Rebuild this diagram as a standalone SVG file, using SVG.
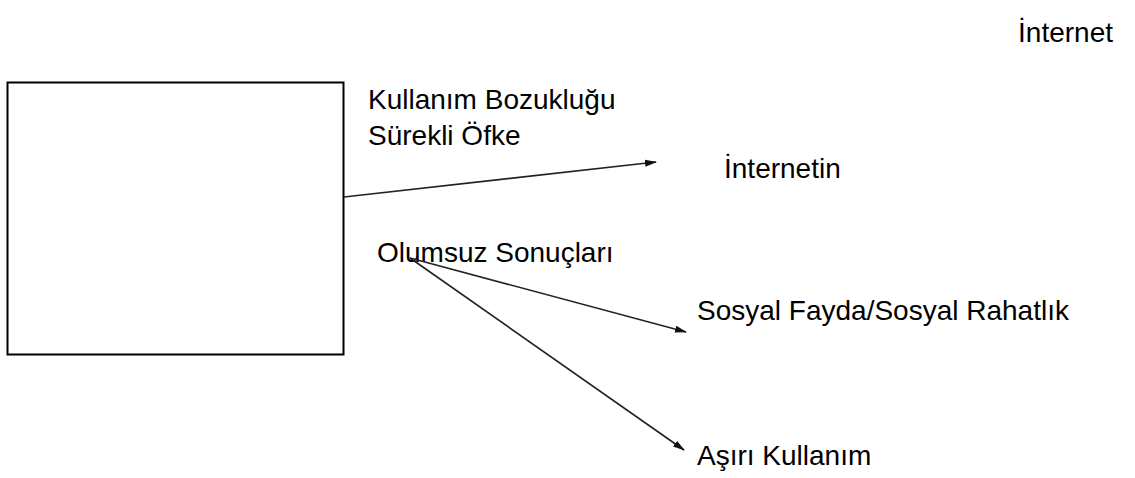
<svg xmlns="http://www.w3.org/2000/svg" width="1135" height="478" viewBox="0 0 1135 478">
<style>
text{font-family:"Liberation Sans",Arial,sans-serif;font-size:28px;fill:#000}
.ln{stroke:#222;stroke-width:1.6;fill:none}
</style>
<defs>
<marker id="ah" viewBox="0 0 12 10" refX="11" refY="5" markerWidth="12" markerHeight="10" markerUnits="userSpaceOnUse" orient="auto">
<path d="M0,1.5 L12,5 L0,8.5 Z" fill="#111"/>
</marker>
</defs>
<rect width="1135" height="478" fill="#fff"/>
<g id="box"><rect x="7.5" y="82.5" width="336" height="272" fill="#fff" stroke="#000" stroke-width="2"/></g>
<g id="t-internet"><text x="1113" y="42" text-anchor="end">İnternet</text></g>
<g id="t-kullanim"><text x="368" y="109">Kullanım Bozukluğu</text></g>
<g id="t-ofke"><text x="368" y="145">Sürekli Öfke</text></g>
<g id="t-internetin"><text x="724" y="178">İnternetin</text></g>
<g id="t-olumsuz"><text x="377" y="262">Olumsuz Sonuçları</text></g>
<g id="t-sosyal"><text x="697" y="320">Sosyal Fayda/Sosyal Rahatlık</text></g>
<g id="t-asiri"><text x="697" y="465">Aşırı Kullanım</text></g>
<g id="connectors">
<line class="ln" x1="344" y1="197" x2="656" y2="162" marker-end="url(#ah)"/>
<line class="ln" x1="410" y1="258" x2="686" y2="332" marker-end="url(#ah)"/>
<line class="ln" x1="410" y1="258" x2="684" y2="450" marker-end="url(#ah)"/>
</g>
</svg>
